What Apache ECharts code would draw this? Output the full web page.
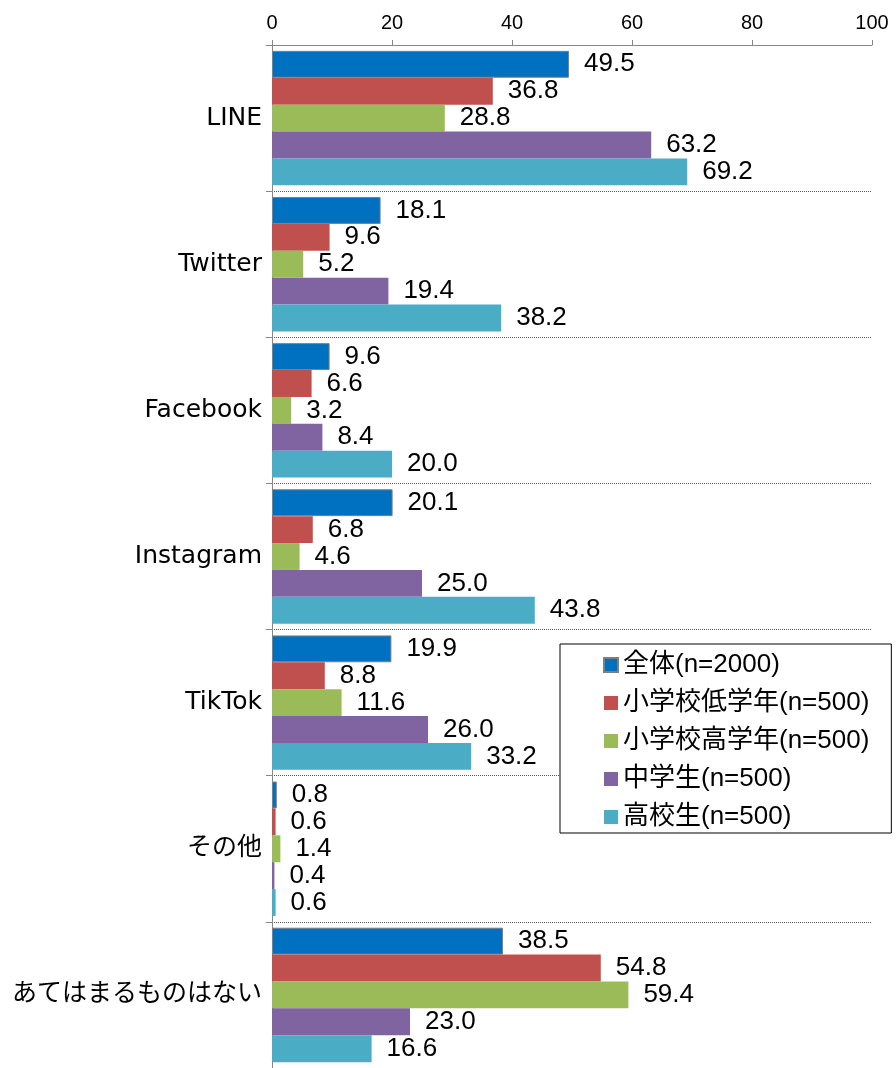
<!DOCTYPE html>
<html><head><meta charset="utf-8">
<script src="https://cdn.jsdelivr.net/npm/echarts@6/dist/echarts.min.js"></script>
<style>html,body{margin:0;padding:0;background:#fff}#c{width:896px;height:1068px}</style>
</head><body><div id="c"></div>
<script>
const categories = ['LINE','Twitter','Facebook','Instagram','TikTok','その他','あてはまるものはない'];
const seriesNames = ['全体(n=2000)','小学校低学年(n=500)','小学校高学年(n=500)','中学生(n=500)','高校生(n=500)'];
const allVals = [49.5,18.1,9.6,20.1,19.9,0.8,38.5];
const lowVals = [36.8,9.6,6.6,6.8,8.8,0.6,54.8];
const highVals = [28.8,5.2,3.2,4.6,11.6,1.4,59.4];
const jhsVals = [63.2,19.4,8.4,25.0,26.0,0.4,23.0];
const hsVals = [69.2,38.2,20.0,43.8,33.2,0.6,16.6];
const xTicks = [0,20,40,60,80,100];

const colors = ['#0070C0','#C0504D','#9BBB59','#8064A2','#4BACC6'];
const dataSets = [allVals,lowVals,highVals,jhsVals,hsVals];
const FONT = '"Liberation Sans","Noto Sans CJK JP",Arial,sans-serif';
const CATFONT = '"DejaVu Sans","Noto Sans CJK JP",sans-serif';

const chart = echarts.init(document.getElementById('c'), null, {renderer:'canvas'});
chart.setOption({
  animation:false,
  textStyle:{fontFamily:FONT},
  grid:{left:272,top:45,width:600,height:1026},
  xAxis:{type:'value',position:'top',min:0,max:100,interval:20,
    axisLine:{show:true,lineStyle:{color:'#868686',width:1}},
    axisTick:{show:true,length:5,lineStyle:{color:'#868686'}},
    splitLine:{show:false},
    axisLabel:{color:'#000',fontSize:20,margin:12,fontFamily:FONT,
      formatter:v=>xTicks.includes(v)?String(v):''}
  },
  yAxis:{type:'category',inverse:true,data:categories,
    axisLine:{show:true,lineStyle:{color:'#868686',width:1}},
    axisTick:{show:true,length:6,lineStyle:{color:'#868686'}},
    axisLabel:{color:'#000',fontSize:25,margin:10,fontFamily:CATFONT},
    splitLine:{show:true,interval:0,lineStyle:{color:'#555',type:[1,1],width:1}}
  },
  legend:{orient:'vertical',left:560,top:644,
    data:seriesNames.map(n=>({name:n,icon:'rect'})),
    itemWidth:14,itemHeight:14,itemGap:12,itemTextGap:9,
    padding:[8,22,3,43],
    borderColor:'#000',borderWidth:1,backgroundColor:'#fff',
    textStyle:{fontSize:26,color:'#000',fontFamily:FONT,lineHeight:26}
  },
  series:dataSets.map((d,i)=>({
    name:seriesNames[i],type:'bar',data:d,
    barGap:'0%',barCategoryGap:'8%',
    itemStyle:{color:colors[i],borderColor:i===0?'#7f7f7f':colors[i],borderWidth:i===0?1:0},
    label:{show:true,position:'right',distance:15,color:'#000',fontSize:26,fontFamily:FONT,
      formatter:p=>Number(p.value).toFixed(1)}
  }))
});
</script></body></html>
